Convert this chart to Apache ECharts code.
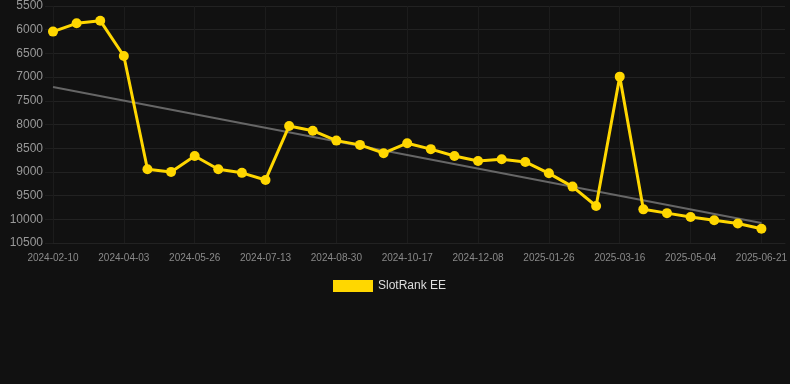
<!DOCTYPE html>
<html>
<head>
<meta charset="utf-8">
<script src="https://cdn.jsdelivr.net/npm/echarts@6/dist/echarts.min.js"></script>
<style>
html,body{margin:0;padding:0;background:#111111;}
#chart{width:790px;height:384px;}
</style>
</head>
<body>
<div id="chart"></div>
<script>
var categories = [
  "2024-02-10","2024-02-28","2024-03-16","2024-04-03","2024-04-21","2024-05-08",
  "2024-05-26","2024-06-11","2024-06-27","2024-07-13","2024-07-29","2024-08-14",
  "2024-08-30","2024-09-15","2024-10-01","2024-10-17","2024-11-04","2024-11-21",
  "2024-12-08","2024-12-24","2025-01-09","2025-01-26","2025-02-11","2025-02-27",
  "2025-03-16","2025-04-01","2025-04-17","2025-05-04","2025-05-20","2025-06-05",
  "2025-06-21","2025-07-08"
];
var rankValues = [
  6040, 5865, 5810, 6555, 8945, 9000, 8665, 8945, 9020, 9170,
  8030, 8130, 8340, 8430, 8605, 8395, 8520, 8665, 8770, 8735,
  8790, 9030, 9310, 9720, 6990, 9790, 9870, 9950, 10020, 10090,
  10200
];
var trendStart = 7210;
var trendEnd = 10080;
var yTicks = [5500, 6000, 6500, 7000, 7500, 8000, 8500, 9000, 9500, 10000, 10500];

var trendData = categories.map(function(){ return null; });
trendData[0] = trendStart;
trendData[rankValues.length - 1] = trendEnd;

var chart = echarts.init(document.getElementById('chart'), null, {renderer:'canvas'});
chart.setOption({
  backgroundColor: '#111111',
  animation: false,
  grid: { left: 53, right: 4, top: 6, bottom: 141, containLabel: false },
  legend: {
    data: ['SlotRank EE'],
    top: 275,
    left: 328,
    itemWidth: 40,
    itemHeight: 12,
    icon: 'rect',
    textStyle: { color: '#dddddd', fontSize: 12, fontFamily: 'Arial, Liberation Sans, sans-serif' }
  },
  xAxis: {
    type: 'category',
    data: categories,
    boundaryGap: false,
    axisLine: { show: true, lineStyle: { color: '#222222' } },
    axisTick: { show: false },
    axisLabel: {
      interval: 2,
      color: '#8a8a8a',
      fontSize: 10,
      margin: 10,
      fontFamily: 'Arial, Liberation Sans, sans-serif',
      formatter: function(v){ return v; }
    },
    splitLine: { show: true, interval: 2, lineStyle: { color: '#1c1c1c', width: 1 } }
  },
  yAxis: {
    type: 'value',
    inverse: true,
    min: yTicks[0],
    max: yTicks[yTicks.length - 1],
    interval: 500,
    axisLine: { show: false },
    axisTick: { show: true, length: 8, lineStyle: { color: '#1e1e1e' } },
    axisLabel: {
      color: '#999999',
      fontSize: 12,
      margin: 10,
      fontFamily: 'Arial, Liberation Sans, sans-serif',
      formatter: function(v){ return String(v); }
    },
    splitLine: { show: true, lineStyle: { color: '#222222', width: 1 } }
  },
  series: [
    {
      name: 'Trend',
      type: 'line',
      data: trendData,
      connectNulls: true,
      symbol: 'none',
      lineStyle: { color: '#666666', width: 2 },
      z: 1,
      silent: true
    },
    {
      name: 'SlotRank EE',
      type: 'line',
      data: rankValues,
      symbol: 'circle',
      symbolSize: 10,
      itemStyle: { color: '#FFD700' },
      lineStyle: { color: '#FFD700', width: 3 },
      z: 2
    }
  ]
});
</script>
</body>
</html>
